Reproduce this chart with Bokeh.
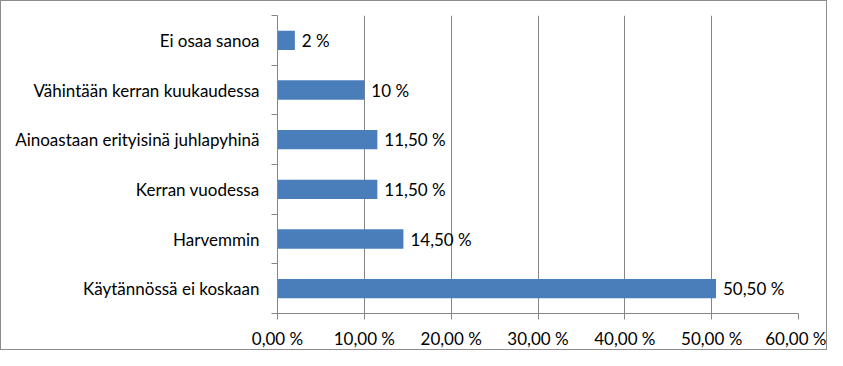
from bokeh.plotting import figure
from bokeh.models import FixedTicker, ColumnDataSource, LabelSet
from bokeh.core.properties import value
from bokeh.embed import file_html
from bokeh.resources import INLINE

# data (bottom to top)
categories = ["Käytännössä ei koskaan", "Harvemmin", "Kerran vuodessa",
              "Ainoastaan erityisinä juhlapyhinä", "Vähintään kerran kuukaudessa",
              "Ei osaa sanoa"]
values = [50.5, 14.5, 11.5, 11.5, 10, 2]
value_labels = ["50,50 %", "14,50 %", "11,50 %", "11,50 %", "10 %", "2 %"]
x_ticks = [0, 10, 20, 30, 40, 50, 60]
x_tick_labels = ["0,00 %", "10,00 %", "20,00 %", "30,00 %", "40,00 %", "50,00 %", "60,00 %"]

FONT = "Lato"
FS = "17px"
GRAY = "#868686"

ypos = list(range(len(categories)))
src = ColumnDataSource(dict(y=ypos, v=values, lab=value_labels, cat=categories))

p = figure(width=827, height=350, output_backend="svg", toolbar_location=None,
           x_range=(0, 60), y_range=(-0.5, len(categories) - 0.5),
           min_border_left=276, min_border_right=30, min_border_top=14, min_border_bottom=36)
p.styles = {"border": "1px solid #8c8c8c", "box-sizing": "border-box"}
p.outline_line_color = None
p.background_fill_color = "white"
p.border_fill_color = "white"

p.hbar(y="y", right="v", left=0, height=0.39, source=src, color="#4A7EBB", line_color=None)

labels = LabelSet(x="v", y="y", text="lab", source=src, x_offset=7,
                  text_baseline="middle", text_align="left",
                  text_font=value(FONT), text_font_size=value(FS), text_color="black")
p.add_layout(labels)

# x axis
p.xaxis.ticker = FixedTicker(ticks=x_ticks)
p.xaxis.major_label_overrides = {t: l for t, l in zip(x_ticks, x_tick_labels)}
p.xaxis.axis_line_color = GRAY
p.xaxis.major_tick_line_color = GRAY
p.xaxis.major_tick_in = 0
p.xaxis.major_tick_out = 6
p.xaxis.minor_tick_line_color = None
p.xaxis.major_label_text_font = FONT
p.xaxis.major_label_text_font_size = FS
p.xaxis.major_label_text_color = "black"
p.xaxis.major_label_standoff = 8

# y axis: labels at centers, ticks at boundaries (minor ticks)
bounds = [i - 0.5 for i in range(len(categories) + 1)]
p.yaxis.ticker = FixedTicker(ticks=ypos, minor_ticks=bounds)
p.yaxis.major_label_overrides = {i: c for i, c in zip(ypos, categories)}
p.yaxis.axis_line_color = GRAY
p.yaxis.major_tick_line_color = None
p.yaxis.major_tick_in = 0
p.yaxis.major_tick_out = 0
p.yaxis.minor_tick_line_color = GRAY
p.yaxis.minor_tick_in = 0
p.yaxis.minor_tick_out = 6
p.yaxis.major_label_text_font = FONT
p.yaxis.major_label_text_font_size = FS
p.yaxis.major_label_text_color = "black"
p.yaxis.major_label_standoff = 12

p.xgrid.ticker = FixedTicker(ticks=x_ticks[1:])
p.xgrid.grid_line_color = GRAY
p.ygrid.grid_line_color = None

open("out.html", "w").write(file_html(p, INLINE))
